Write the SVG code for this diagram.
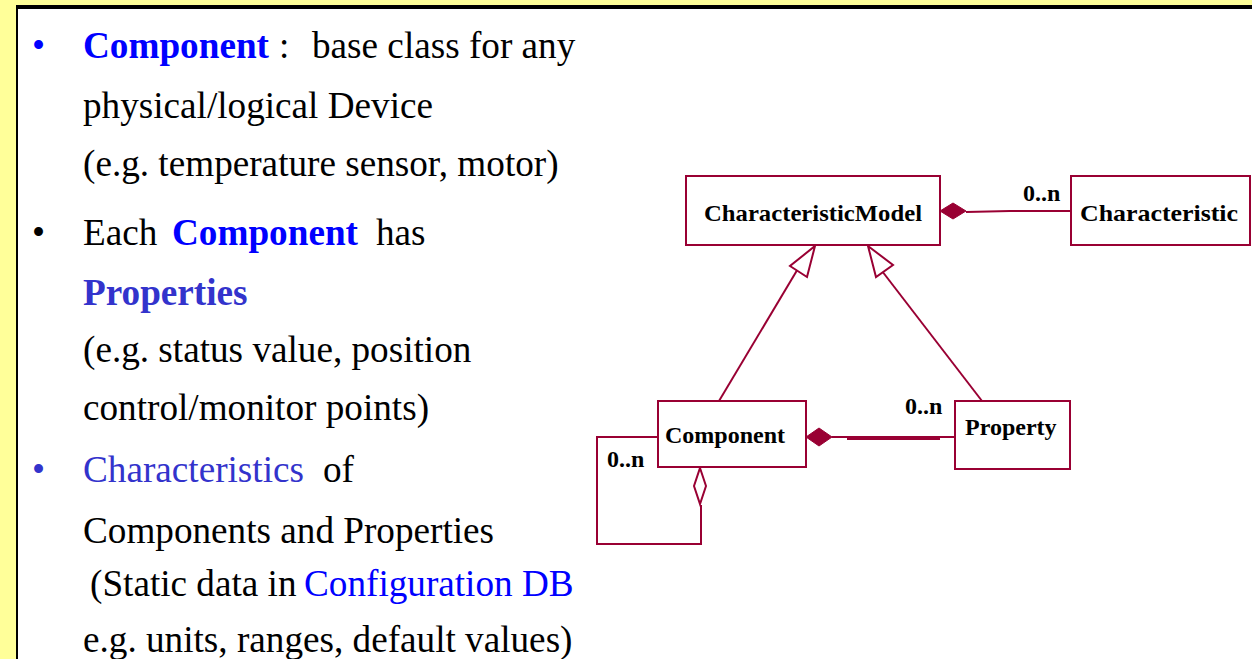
<svg xmlns="http://www.w3.org/2000/svg" width="1252" height="659" viewBox="0 0 1252 659">
<defs>
<style>
.txt{font-family:"Liberation Serif","Times New Roman",serif;font-size:37.2px;fill:#000}
.b{font-weight:bold}
.blue{fill:#0000FF}
.pblue{fill:#3333CC}
.box{fill:#fff;stroke:#990033;stroke-width:2}
.lbl{font-family:"Liberation Serif","Times New Roman",serif;font-size:24px;font-weight:bold;fill:#000}
.con{fill:none;stroke:#990033;stroke-width:2}
.hollow{fill:#fff;stroke:#990033;stroke-width:2}
.solid{fill:#990033;stroke:#990033;stroke-width:1}
</style>
</defs>
<rect x="0" y="0" width="1252" height="659" fill="#FFFF99"/>
<rect x="18" y="9" width="1234" height="650" fill="#fff"/>
<rect x="16" y="5" width="1236" height="4" fill="#000"/>
<rect x="16" y="5" width="2" height="654" fill="#000"/>

<g id="text">
<text class="txt blue" x="32" y="58">•</text>
<text class="txt" y="58"><tspan x="83" class="b blue">Component</tspan><tspan x="279">:</tspan><tspan x="312">base class for any</tspan></text>
<text class="txt" x="83" y="118">physical/logical Device</text>
<text class="txt" x="83" y="176">(e.g. temperature sensor, motor)</text>
<text class="txt" x="32" y="245">•</text>
<text class="txt" y="245"><tspan x="83">Each</tspan><tspan x="172" class="b blue">Component</tspan><tspan x="376">has</tspan></text>
<text class="txt b pblue" x="83" y="305">Properties</text>
<text class="txt" x="83" y="362">(e.g. status value, position</text>
<text class="txt" x="83" y="420">control/monitor points)</text>
<text class="txt pblue" x="32" y="482">•</text>
<text class="txt" y="482"><tspan x="83" class="pblue">Characteristics</tspan><tspan x="323">of</tspan></text>
<text class="txt" x="83" y="543">Components and Properties</text>
<text class="txt" y="596"><tspan x="90">(Static data in</tspan><tspan x="304" class="blue">Configuration DB</tspan></text>
<text class="txt" x="83" y="652">e.g. units, ranges, default values)</text>
</g>

<g id="connectors">
<path class="con" d="M966,212 L1010,211 L1071,211"/>
<polygon class="solid" points="940,211 953,203 966,211 953,219"/>
<path class="con" d="M719,401 L799,267"/>
<polygon class="hollow" points="815,246 807,277 790,266"/>
<path class="con" d="M982,401 L882,271"/>
<polygon class="hollow" points="868,246 893,265 876,277"/>
<path class="con" d="M832,437 L955,437 M847,439 L940,439"/>
<polygon class="solid" points="806,437 819,428 832,437 819,446"/>
<path class="con" d="M701,505 L701,544 L597,544 L597,437 L658,437"/>
<polygon class="hollow" points="700,468 706,486 700,504 694,486"/>
<text class="lbl" x="1023" y="201">0..n</text>
<text class="lbl" x="905" y="414">0..n</text>
<text class="lbl" x="607" y="467">0..n</text>
</g>

<g id="CharacteristicModel">
<rect class="box" x="686" y="176" width="254" height="69"/>
<text class="lbl" x="704" y="221" textLength="218" lengthAdjust="spacingAndGlyphs">CharacteristicModel</text>
</g>
<g id="Characteristic">
<rect class="box" x="1071" y="176" width="179" height="69"/>
<text class="lbl" x="1080" y="221" textLength="158" lengthAdjust="spacingAndGlyphs">Characteristic</text>
</g>
<g id="Component">
<rect class="box" x="658" y="401" width="148" height="66"/>
<text class="lbl" x="665" y="443">Component</text>
</g>
<g id="Property">
<rect class="box" x="955" y="401" width="115" height="68"/>
<text class="lbl" x="965" y="435">Property</text>
</g>
</svg>
